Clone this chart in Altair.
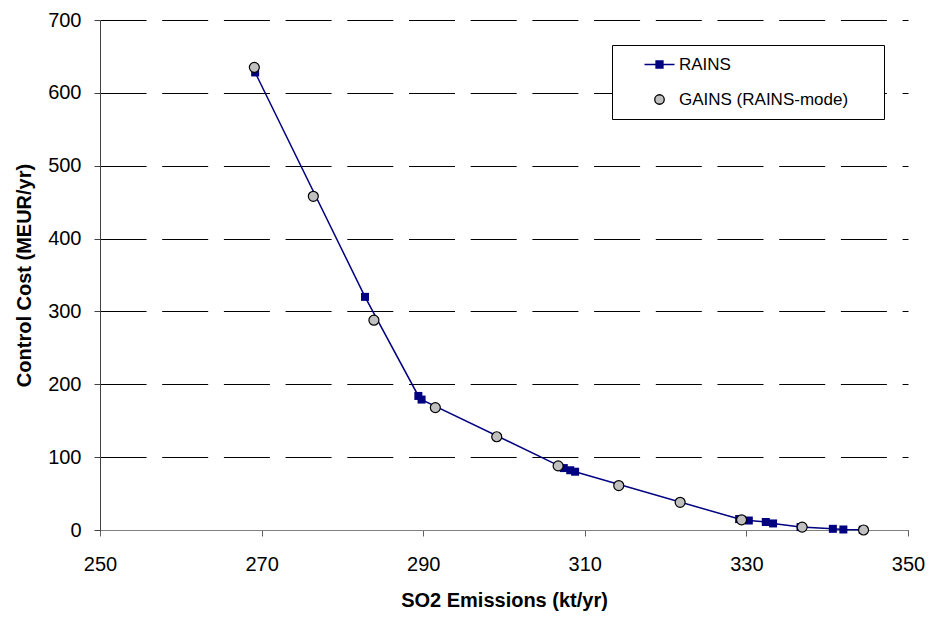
import altair as alt
import pandas as pd

# SO2 emission levels (kt/yr) and control costs (MEUR/yr)
rains_emis = [269.2, 282.8, 289.4, 289.8, 307.4, 308.2, 308.8, 329.1, 330.3,
              332.4, 333.3, 336.7, 340.7, 342.0, 344.4]
rains_cost = [628, 320, 184, 179, 85, 82, 80, 15, 13, 11, 9, 4, 1.6, 0.7, 0.3]

gains_emis = [269.1, 276.4, 283.9, 291.5, 299.1, 306.7, 314.2, 321.8, 329.4,
              336.9, 344.5]
gains_cost = [635, 458, 288, 168, 128, 88, 61, 38, 14, 4, 0]

series_names = ["RAINS", "GAINS (RAINS-mode)"]
x_ticks = [250, 270, 290, 310, 330, 350]
y_ticks = [0, 100, 200, 300, 400, 500, 600, 700]

NAVY = "#000080"
GREY = "#c0c0c0"
FONT = "Liberation Sans"

rains = pd.DataFrame({"emis": rains_emis, "cost": rains_cost, "series": series_names[0]})
gains = pd.DataFrame({"emis": gains_emis, "cost": gains_cost, "series": series_names[1]})
both = pd.concat([rains, gains], ignore_index=True)

x_enc = alt.X(
    "emis:Q",
    scale=alt.Scale(domain=[250, 350], nice=False, zero=False),
    axis=alt.Axis(
        values=x_ticks, title="SO2 Emissions (kt/yr)", grid=False,
        domainColor="#808080", tickColor="#606060", tickSize=6,
        labelFlush=False, labelOverlap=False,
        labelFont=FONT, labelFontSize=20, labelColor="black", labelPadding=18,
        titleFont=FONT, titleFontSize=20, titleFontWeight="bold",
        titleColor="black", titlePadding=16,
    ),
)
y_enc = alt.Y(
    "cost:Q",
    scale=alt.Scale(domain=[0, 700], nice=False),
    axis=alt.Axis(
        values=y_ticks, title="Control Cost (MEUR/yr)", grid=True,
        gridColor="black", gridDash=[46, 15.7], gridWidth=1, gridOpacity=1,
        domainColor="#404040", tickColor="#404040", tickSize=6,
        labelFlush=False, labelOverlap=False,
        labelFont=FONT, labelFontSize=20, labelColor="black", labelPadding=13,
        titleFont=FONT, titleFontSize=20, titleFontWeight="bold",
        titleColor="black", titlePadding=13,
    ),
)

# Legend symbols: a line with a square for RAINS, a grey disc for GAINS
rains_symbol = "M-3,0H3M-0.7,-0.7H0.7V0.7H-0.7Z"
gains_symbol = "M0.95,0A0.95,0.95 0 1,1 -0.95,0A0.95,0.95 0 1,1 0.95,0Z"

# trailing blank glyphs (not trimmed as whitespace) widen the legend box
legend = alt.Legend(
    orient="none", legendX=512, legendY=25, title=None,
    padding=11, strokeColor="black", fillColor="white", cornerRadius=0,
    labelFont=FONT, labelFontSize=17, labelColor="black", labelLimit=400,
    symbolSize=100, symbolOffset=28, labelOffset=11, rowPadding=17,
    symbolStrokeWidth=1.3,
    labelExpr="datum.label + '\u2800\u2800'",
)

line = alt.Chart(rains).mark_line(color=NAVY, strokeWidth=1.5).encode(x=x_enc, y=y_enc)

squares = alt.Chart(rains).mark_point(
    shape="square", filled=True, color=NAVY, size=64, opacity=1
).encode(x="emis:Q", y="cost:Q")

circles = alt.Chart(gains).mark_point(
    shape="circle", filled=True, fill=GREY, stroke="black", strokeWidth=1.2,
    size=100, opacity=1
).encode(x="emis:Q", y="cost:Q")

key = alt.Chart(both).transform_filter("false").mark_point(
    filled=True, opacity=1
).encode(
    x="emis:Q", y="cost:Q",
    shape=alt.Shape("series:N", scale=alt.Scale(domain=series_names,
                    range=[rains_symbol, gains_symbol]), legend=legend),
    fill=alt.Fill("series:N", scale=alt.Scale(domain=series_names,
                  range=[NAVY, GREY]), legend=legend),
    stroke=alt.Stroke("series:N", scale=alt.Scale(domain=series_names,
                      range=[NAVY, "black"]), legend=legend),
)

chart = alt.layer(line, squares, circles, key).properties(
    width=808, height=510,
    autosize=alt.AutoSizeParams(type="none"),
    padding={"left": 100, "top": 20, "right": 21, "bottom": 89},
    background="white",
).configure_view(stroke=None)

chart.save("out.html", embed_options={"renderer": "svg", "actions": False})
